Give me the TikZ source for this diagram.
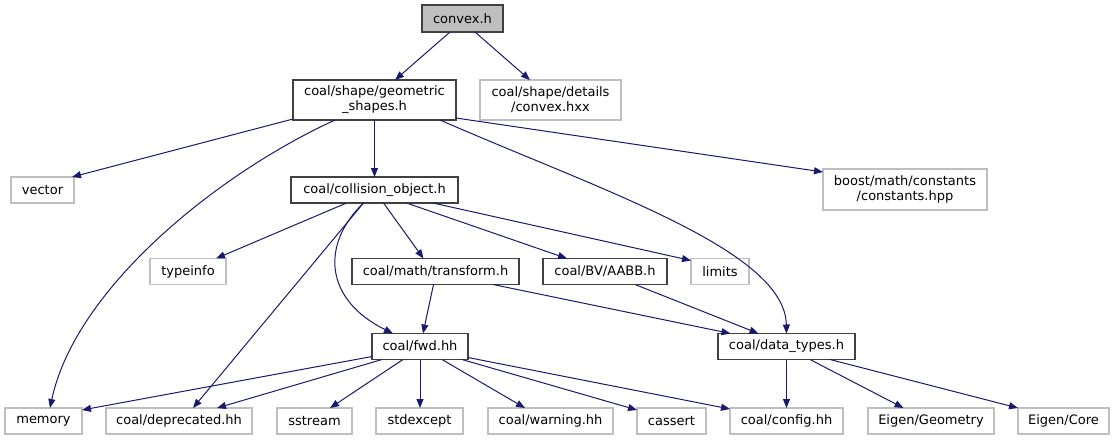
\documentclass[tikz,border=0pt]{standalone}
\usepackage{fontspec}
\setmainfont{DejaVu Sans}
\usetikzlibrary{arrows.meta,calc}
\definecolor{edgeblue}{HTML}{191970}
\definecolor{extgray}{HTML}{BFBFBF}
\definecolor{docborder}{HTML}{404040}
\tikzset{
  basebox/.style={rectangle, inner sep=0pt, outer sep=0pt, minimum height=26pt, align=center,
    font=\fontsize{13}{15}\selectfont, line width=1.3pt},
  docbox/.style={basebox, draw=docborder},
  extbox/.style={basebox, draw=extgray},
  rootbox/.style={basebox, draw=docborder, fill=extgray},
  dep/.style={draw=edgeblue, line width=1pt, -{Triangle[length=9pt,width=7pt]}, edgeblue}
}
\begin{document}
\begin{tikzpicture}[x=1pt,y=-1pt]
\useasboundingbox (0,0) rectangle (1115,440);
% nodes
\node[rootbox, minimum width=81pt, minimum height=27pt] (convex) at (462.5,18.5) {convex.h};
\node[docbox, minimum width=163pt, minimum height=40pt] (geom) at (374.5,100) {coal/shape/geometric\\\_shapes.h};
\node[extbox, minimum width=141pt, minimum height=40pt] (hxx) at (550.5,100) {coal/shape/details\\/convex.hxx};
\node[extbox, minimum width=63pt] (vector) at (42.5,190) {vector};
\node[docbox, minimum width=167pt] (coll) at (374.5,190) {coal/collision\_object.h};
\node[extbox, minimum width=164pt, minimum height=41pt] (boost) at (905,189.5) {boost/math/constants\\/constants.hpp};
\node[extbox, minimum width=76pt] (typeinfo) at (188,271.5) {typeinfo};
\node[docbox, minimum width=167pt] (transform) at (435.5,271.5) {coal/math/transform.h};
\node[docbox, minimum width=124pt] (aabb) at (605,271.5) {coal/BV/AABB.h};
\node[extbox, minimum width=58pt] (limits) at (720,271.5) {limits};
\node[docbox, minimum width=96pt] (fwd) at (420,346.5) {coal/fwd.hh};
\node[docbox, minimum width=137pt] (dtypes) at (786.5,346.5) {coal/data\_types.h};
\node[extbox, minimum width=77pt] (memory) at (43.5,421) {memory};
\node[extbox, minimum width=146pt] (deprecated) at (179,421) {coal/deprecated.hh};
\node[extbox, minimum width=75pt] (sstream) at (314.5,421) {sstream};
\node[extbox, minimum width=87pt] (stdexcept) at (419.5,421) {stdexcept};
\node[extbox, minimum width=125pt] (warning) at (550.5,421) {coal/warning.hh};
\node[extbox, minimum width=69pt] (cassert) at (671.5,421) {cassert};
\node[extbox, minimum width=113pt] (config) at (786.5,421) {coal/config.hh};
\node[extbox, minimum width=126pt] (egeo) at (931,421) {Eigen/Geometry};
\node[extbox, minimum width=91pt] (ecore) at (1063.5,421) {Eigen/Core};
% edges
\draw[dep] ([xshift=-12.5]convex.south) -- ([xshift=20.5]geom.north);
\draw[dep] ([xshift=12.5]convex.south) -- ([xshift=-20.5]hxx.north);
\draw[dep] ([yshift=1]geom.south west) -- ([xshift=-2]vector.north east);
\draw[dep] ([xshift=-39.5]geom.south) .. controls (215,175) and (75,290) .. ([xshift=6.5]memory.north);
\draw[dep] (geom.south) -- (coll.north);
\draw[dep] ([xshift=-16]geom.south east) .. controls (600,190) and (785,250) .. (dtypes.north);
\draw[dep] ([yshift=2]geom.south east) -- ([yshift=-3]boost.north west);
\draw[dep] ([xshift=-28]coll.south) -- ([xshift=28]typeinfo.north);
\draw[dep] ([xshift=-11]coll.south) -- ([xshift=14]deprecated.north);
\draw[dep] ([xshift=-11]coll.south) .. controls (320,245) and (325,300) .. ([xshift=-27]fwd.north);
\draw[dep] ([xshift=9]coll.south) -- ([xshift=-12]transform.north);
\draw[dep] ([xshift=32]coll.south) -- ([xshift=-38]aabb.north);
\draw[dep] ([xshift=-25]coll.south east) -- ([yshift=-2]limits.north west);
\draw[dep] ([xshift=-2]transform.south) -- ([xshift=3]fwd.north);
\draw[dep] ([xshift=-26]transform.south east) -- ([xshift=-56]dtypes.north);
\draw[dep] ([xshift=-32]aabb.south east) -- ([xshift=-28]dtypes.north);
\draw[dep] ([yshift=-10]fwd.west) -- ([yshift=-2]memory.north east);
\draw[dep] ([xshift=10]fwd.south west) -- ([xshift=38]deprecated.north);
\draw[dep] ([xshift=-17]fwd.south) -- ([xshift=15.5]sstream.north);
\draw[dep] (fwd.south) -- (fwd.south |- stdexcept.north);
\draw[dep] ([xshift=22]fwd.south) -- ([xshift=-25.5]warning.north);
\draw[dep] ([xshift=-6]fwd.south east) -- ([yshift=-2]cassert.north west);
\draw[dep] ([yshift=2]fwd.south east) -- ([yshift=-1]config.north west);
\draw[dep] (dtypes.south) -- (config.north);
\draw[dep] ([xshift=23.5]dtypes.south) -- ([xshift=-27.5]egeo.north);
\draw[dep] ([xshift=-25]dtypes.south east) -- (ecore.north west);
\end{tikzpicture}
\end{document}
